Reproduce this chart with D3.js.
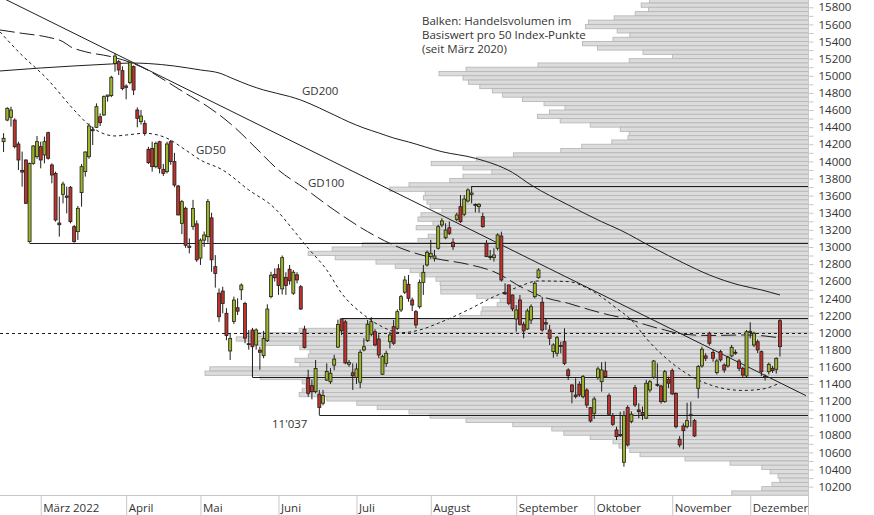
<!DOCTYPE html>
<html><head><meta charset="utf-8">
<script src="https://cdn.jsdelivr.net/npm/d3@7"></script>
<style>
html,body{margin:0;padding:0;background:#fff;}
svg{display:block;font-family:"Open Sans",sans-serif;}
</style></head><body>
<svg id="chart" width="874" height="515"></svg>
<script>
// ---------- DATA ----------
const firstDay = "2022-02-14";
const holidays = ["2022-02-21","2022-04-15","2022-05-30","2022-06-20","2022-07-04","2022-09-05","2022-11-24"];
const monthKeys = ["2022-03","2022-04","2022-05","2022-06","2022-07","2022-08","2022-09","2022-10","2022-11","2022-12"];
const monthLabels = ["März 2022","April","Mai","Juni","Juli","August","September","Oktober","November","Dezember"];

const opens = [14230,14483,14515,14483,14203,13895,14016,13062,13977,14055,
 14172,14075,14335,13958,13860,13280,13615,13595,13697,13237,
 13179,13635,13880,14055,14370,14398,14522,14542,14760,14768,
 15145,15165,15060,14880,14920,15107,14600,14464,14444,14141,
 14152,13938,14230,13907,13880,14230,13997,13712,13276,13452,
 13010,13240,13270,12870,13080,13120,13340,12770,12460,12485,
 12225,11785,12130,12290,12500,12340,11870,12030,11855,11795,
 11730,11905,12420,12680,12745,12510,12645,12740,12460,12675,
 12535,12040,11465,11380,11310,11280,11175,11445,11425,11620,
 11830,12160,12125,11630,11530,11475,11420,11797,11905,11980,
 12010,11925,11513,11641,11893,12069,12050,12264,12471,12564,
 12381,12244,12302,12587,12790,12887,12868,12985,13257,13108,
 13225,13055,13323,13471,13382,13537,13615,13495,13471,13354,
 13043,12890,12875,12985,13128,12465,12556,12439,12159,12381,
 12097,12042,12147,12419,12641,12354,12115,12030,11777,11758,
 11850,11893,11563,11388,11271,11396,11251,11329,11123,11057,
 11473,11426,11551,11263,11029,10862,10810,10485,11123,10960,
 11356,11096,11065,11000,11329,11478,11395,11376,11193,11454,
 11555,11290,10754,10909,10901,11040,10971,11349,11610,11727,
 11992,11766,11532,11777,11621,11610,11727,11770,11668,11583,
 11493,12015,11855,11893,11777,11490,11543,11583,11571,12139];
const highs = [14330,14632,14639,14503,14230,14114,14024,13985,14190,14297,
 14230,14289,14347,13977,13880,13588,13763,13705,13712,13257,
 13479,13969,14114,14444,14405,14678,14561,14770,14776,15000,
 15262,15184,15110,14900,15165,15120,14631,14600,14480,14170,
 14230,14230,14240,13970,14230,14250,14100,13725,13550,13470,
 13100,13550,13310,13100,13180,13560,13400,12905,12515,12535,
 12285,11990,12420,12400,12575,12360,12030,12055,12050,11835,
 12020,12330,12710,12750,12800,12900,12705,12790,12730,12705,
 12555,12080,11565,11450,11680,11330,11330,11640,11585,11740,
 12150,12167,12150,11680,11640,11640,11800,11933,12147,12180,
 12040,11980,11740,11790,12010,12147,12270,12440,12660,12673,
 12408,12264,12620,12790,12960,13082,12965,13260,13335,13277,
 13296,13100,13400,13607,13607,13685,13712,13510,13510,13400,
 13080,12965,12985,13160,13179,12576,12560,12445,12322,12439,
 12127,12280,12330,12600,12750,12416,12170,12089,11875,11960,
 11893,12050,11583,11396,11466,11430,11504,11350,11130,11251,
 11602,11653,11660,11290,11060,10900,11076,11085,11150,11080,
 11388,11174,11135,11446,11446,11680,11641,11390,11563,11485,
 11580,11300,10790,10940,11180,11193,10990,11621,11835,11758,
 12010,11797,11690,11797,11640,11730,11855,11800,11690,11600,
 12030,12120,12010,11920,11790,11510,11650,11610,11710,12167];
const lows = [14110,14470,14406,14152,13899,13705,13502,13050,13960,14030,
 13919,13977,14020,13744,13296,13121,13510,13393,13276,13050,
 13082,13471,13822,14030,14191,14390,14413,14530,14698,14750,
 15048,15009,14830,14725,14900,14775,14398,14430,14300,13970,
 13880,13920,13860,13830,13860,13960,13700,13370,13150,12990,
 12925,13200,12825,12790,13000,13050,12710,12525,12125,12225,
 11910,11680,12100,12205,12380,11875,11800,11478,11800,11565,
 11700,11890,12400,12595,12440,12445,12440,12560,12440,12575,
 12265,11815,11250,11220,11290,11037,11150,11435,11400,11560,
 11820,11970,11630,11600,11330,11400,11350,11780,11890,11960,
 11840,11700,11505,11600,11815,11855,12030,12240,12450,12360,
 12252,12050,12280,12440,12770,12860,12830,12970,13230,13090,
 13140,12965,13300,13280,13360,13520,13510,13405,13400,13225,
 12885,12848,12830,12960,12595,12439,12320,12250,12010,12080,
 11933,12030,12100,12400,12630,12010,12030,11855,11707,11720,
 11758,11620,11446,11174,11230,11250,11230,11120,10950,10990,
 11450,11310,11470,11030,10910,10745,10780,10433,10670,10940,
 11130,10999,10980,10990,11300,11460,11368,11170,11180,11350,
 11270,10880,10660,10635,10880,10900,10780,11233,11590,11668,
 11850,11660,11510,11660,11530,11590,11710,11740,11550,11480,
 11470,11930,11830,11760,11490,11440,11510,11530,11520,11720];
const closes = [14270,14620,14600,14172,14016,13875,13510,13977,14180,14230,
 14016,14230,14036,13841,13315,13260,13735,13580,13296,13062,
 13452,13938,14110,14413,14360,14639,14452,14756,14775,14982,
 15231,15068,14850,14865,15153,14834,14503,14530,14328,13985,
 13938,14211,13919,13860,14203,13997,13724,13374,13529,13020,
 12995,13450,12850,13080,13140,13530,12850,12690,12185,12340,
 11965,11930,12380,12250,12555,11935,11860,11835,12030,11770,
 11930,12275,12670,12640,12550,12875,12550,12605,12705,12615,
 12275,11825,11290,11310,11580,11125,11265,11545,11525,11690,
 12095,12020,11645,11650,11495,11575,11770,11835,12097,12127,
 11855,11738,11719,11758,11972,11875,12244,12419,12614,12400,
 12322,12089,12587,12704,12938,12926,12895,13237,13304,13198,
 13160,13004,13374,13296,13560,13666,13630,13485,13499,13237,
 12887,12880,12906,13140,12614,12455,12342,12276,12264,12097,
 12019,12252,12302,12576,12731,12030,12100,11933,11855,11940,
 11840,11641,11496,11310,11251,11271,11485,11154,10967,11224,
 11575,11563,11485,11046,10928,10784,10795,11029,10687,11046,
 11154,11076,11040,11408,11426,11668,11385,11193,11543,11408,
 11283,10901,10687,10854,10971,11030,10792,11602,11805,11699,
 11875,11699,11668,11680,11563,11711,11828,11760,11583,11504,
 12010,12000,11992,11797,11543,11480,11629,11555,11699,11835];

// moving averages: trading-day index (0 = first candle) and value
const gd200Days = [-1,10,29,34,39,46,53,58,62,66,70,77,80,85,89,93,97,101,105,109,118,127,137,142,152,161,166,175,183,190,198,204,209];
const gd200Vals = [15056,15091,15138,15149,15143,15114,15068,15033,14962,14892,14834,14758,14717,14624,14542,14460,14390,14332,14273,14227,14113,14036,13870,13724,13491,13295,13198,12988,12813,12673,12556,12498,12439];
const gd100Days = [-1,5,12,16,18,22,29,37,44,49,55,62,68,74,81,89,98,107,116,125,132,140,145,152,158,163,169,173,178,183,190,200,205,209];
const gd100Vals = [15535,15496,15450,15398,15340,15281,15223,15106,14931,14795,14639,14405,14153,13899,13686,13432,13179,12985,12868,12798,12711,12517,12419,12342,12264,12206,12147,12089,12030,11980,11966,11972,11960,11937];
const gd50Days = [-1,4,12,19,23,30,33,38,44,49,53,59,66,73,78,82,87,91,97,101,107,112,117,125,132,138,144,152,158,165,169,173,180,187,195,199,204,209];
const gd50Vals = [15515,15281,14951,14600,14425,14297,14308,14328,14270,14133,14016,13899,13666,13452,13198,12985,12731,12459,12206,12089,11999,12030,12109,12264,12419,12524,12603,12595,12498,12284,12147,11933,11641,11446,11338,11324,11338,11411];

const trendDays = [-1, 216];
const trendVals = [15925, 11263];

const levelVals = [13050, 13712, 12167, 11478, 11037];
const levelStartDays = [7, 126, 91, 67, 85];
const refLevel = 12000;

// volume profile: lower edge of each 50-point bin, and volume (relative units)
const volBins = [15850,15800,15750,15700,15650,15600,15550,15500,15450,15400,15350,15300,15250,15200,15150,15100,
 15050,15000,14950,14900,14850,14800,14750,14700,14650,14600,14550,14500,14450,14400,14350,14300,14250,14200,14150,14100,
 14050,14000,13950,13900,13850,13800,13750,13700,13650,13600,13550,13500,13450,13400,13350,13300,13250,13200,13150,13100,
 13050,13000,12950,12900,12850,12800,12750,12700,12650,12600,12550,12500,12450,12400,12350,12300,12250,12200,12150,12100,
 12050,12000,11950,11900,11850,11800,11750,11700,11650,11600,11550,11500,11450,11400,11350,11300,11250,11200,11150,11100,
 11050,11000,10950,10900,10850,10800,10750,10700,10650,10600,10550,10500,10450,10400,10350,10300,10250,10200,10150,10100];
const volValues = [26.4,27.8,26.6,28.8,32.3,36.6,37.1,31.8,29.7,32.5,37.6,35.1,27.5,22.6,29.8,45.0,
 57.0,61.5,57.5,56.6,54.7,52.6,50.9,47.6,44.0,40.5,43.1,45.1,41.3,36.3,31.3,29.8,30.0,32.7,37.7,41.2,
 49.1,55.3,62.8,57.5,52.7,57.5,59.7,66.5,69.7,63.8,64.1,63.5,63.0,61.0,64.5,65.0,62.5,65.3,61.9,63.3,
 65.0,74.3,79.3,83.3,78.8,72.0,68.8,66.3,64.7,62.0,61.3,61.2,61.2,55.2,51.3,51.8,54.3,54.5,58.0,77.8,
 77.8,84.8,93.5,95.3,91.7,84.7,83.0,83.3,85.5,84.7,99.7,100.5,91.3,84.3,83.7,84.3,84.8,80.2,75.2,71.8,
 66.5,63.0,57.0,49.2,42.7,40.7,36.3,32.5,31.5,29.7,28.0,20.5,13.0,7.7,6.3,5.0,4.7,6.0,7.7,12.7];

const yTicks = [10200,10400,10600,10800,11000,11200,11400,11600,11800,12000,12200,12400,12600,12800,13000,13200,13400,13600,13800,14000,14200,14400,14600,14800,15000,15200,15400,15600,15800];
const noteLines = ["Balken: Handelsvolumen im","Basiswert pro 50 Index-Punkte","(seit März 2020)"];

// ---------- LAYOUT ----------
const W = 874, H = 515, plotR = 808, plotB = 495;
const svg = d3.select("#chart");
const txt = "#333";
const axisCol = "#c8c8c8";
const ink = "#1e1e1e";
const redC = "#c0322b", greenC = "#9fb52a";

// trading calendar
const hol = new Set(holidays);
const days = [];
let dt = new Date(firstDay + "T00:00:00Z");
while (days.length < opens.length) {
  const dow = dt.getUTCDay(), s = dt.toISOString().slice(0,10);
  if (dow !== 0 && dow !== 6 && !hol.has(s)) days.push(s);
  dt = new Date(dt.getTime() + 86400000);
}
const monthIdx = monthKeys.map(m => days.findIndex(d => d.slice(0,7) === m));

const x = d3.scaleLinear().domain([-0.96, 216.55]).range([0, plotR]);
const y = d3.scaleLinear().domain([10100, 15800]).range([495.2, 7.3]);
const xVol = d3.scaleLinear().domain([0, 100]).range([plotR, plotR - 600]);

svg.append("defs").append("clipPath").attr("id","plot")
  .append("rect").attr("x",0).attr("y",0).attr("width",plotR).attr("height",plotB);
const g = svg.append("g").attr("clip-path","url(#plot)");

// volume profile
g.append("g").selectAll("rect").data(volBins).join("rect")
  .attr("x", (d,i) => xVol(volValues[i]))
  .attr("y", d => y(d + 50))
  .attr("width", (d,i) => plotR - xVol(volValues[i]) + 1)
  .attr("height", d => y(d) - y(d + 50))
  .attr("fill", "#dcdcdc").attr("stroke", "#b8b8b8").attr("stroke-width", 0.9);

// reference dotted line
g.append("line").attr("x1",0).attr("x2",plotR)
  .attr("y1", Math.round(y(refLevel))+0.5).attr("y2", Math.round(y(refLevel))+0.5)
  .attr("stroke", ink).attr("stroke-width",1).attr("stroke-dasharray","3,3");

// horizontal levels
g.append("g").selectAll("line").data(levelVals).join("line")
  .attr("x1",(d,i)=>x(levelStartDays[i])).attr("x2",plotR)
  .attr("y1",d=>Math.round(y(d))+0.5).attr("y2",d=>Math.round(y(d))+0.5)
  .attr("stroke", ink).attr("stroke-width",1.1);

// moving averages
const line = d3.line().x(d=>x(d[0])).y(d=>y(d[1])).curve(d3.curveMonotoneX);
const mk = (ds, vs) => ds.map((d,i)=>[d, vs[i]]);
g.append("path").attr("d", line(mk(gd200Days, gd200Vals))).attr("fill","none").attr("stroke",ink).attr("stroke-width",1);
g.append("path").attr("d", line(mk(gd100Days, gd100Vals))).attr("fill","none").attr("stroke",ink).attr("stroke-width",1).attr("stroke-dasharray","15,5");
g.append("path").attr("d", line(mk(gd50Days, gd50Vals))).attr("fill","none").attr("stroke",ink).attr("stroke-width",1).attr("stroke-dasharray","3,3");

// trend line
g.append("line").attr("x1",x(trendDays[0])).attr("y1",y(trendVals[0]))
  .attr("x2",x(trendDays[1])).attr("y2",y(trendVals[1]))
  .attr("stroke",ink).attr("stroke-width",1);

// candles
const cg = g.append("g");
opens.forEach((o,i) => {
  const cx = x(i), c = closes[i];
  cg.append("line").attr("x1",cx).attr("x2",cx).attr("y1",y(highs[i])).attr("y2",y(lows[i]))
    .attr("stroke",ink).attr("stroke-width",1);
  const top = y(Math.max(o,c)), bot = y(Math.min(o,c));
  cg.append("rect").attr("x",cx-1.5).attr("width",3)
    .attr("y",top).attr("height",Math.max(1, bot-top))
    .attr("fill", c >= o ? greenC : redC)
    .attr("stroke",ink).attr("stroke-width",0.8);
});

// ---------- AXES ----------
const yAxis = d3.axisRight(y).tickValues(d3.range(10200, 15801, 100)).tickSize(5).tickPadding(5)
  .tickFormat(d => yTicks.includes(d) ? String(d) : "");
const ya = svg.append("g").attr("transform",`translate(${plotR+0.5},0)`).call(yAxis);
ya.select(".domain").remove();
ya.selectAll("line").attr("stroke",axisCol);
ya.selectAll("text").attr("fill",txt).attr("font-size","11.5px").attr("font-family","Open Sans");
svg.append("line").attr("x1",plotR+0.5).attr("x2",plotR+0.5).attr("y1",0).attr("y2",H).attr("stroke",axisCol);

const xAxis = d3.axisBottom(x).tickValues(monthIdx).tickSize(H-plotB).tickFormat((d,i)=>monthLabels[i]);
const xa = svg.append("g").attr("transform",`translate(0,${plotB+0.5})`).call(xAxis);
xa.select(".domain").remove();
xa.selectAll("line").attr("stroke",axisCol);
xa.selectAll("text").attr("fill",txt).attr("font-size","11.5px").attr("font-family","Open Sans")
  .attr("text-anchor","start").attr("x",2).attr("y",16.5).attr("dy",0);
svg.append("line").attr("x1",0).attr("x2",plotR).attr("y1",plotB+0.5).attr("y2",plotB+0.5).attr("stroke",axisCol);

// ---------- LABELS ----------
const lab = (t, lx, ly) => svg.append("text").attr("x",lx).attr("y",ly).text(t)
  .attr("fill",txt).attr("font-size","11.5px");
noteLines.forEach((t,i) => lab(t, 422, 25 + i*14));
lab("GD200", 302, 95);
lab("GD100", 308, 187);
lab("GD50", 196, 154);
lab("11'037", 272, 428);
</script>
</body></html>
